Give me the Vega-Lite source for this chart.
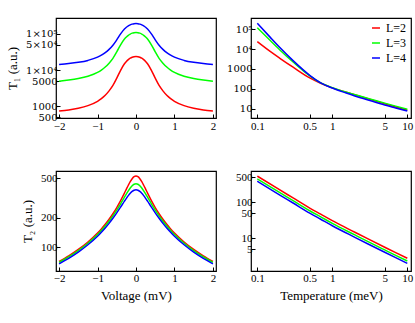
{
  "$schema": "https://vega.github.io/schema/vega-lite/v6.json",
  "padding": {"left": 5, "top": 17, "right": 0, "bottom": 0},
  "background": "white",
  "bounds": "flush",
  "spacing": {"row": 53, "column": 35},
  "columns": 2,
  "resolve": {"scale": {"color": "independent"}, "legend": {"color": "independent"}},
  "datasets": {
    "t1v": [
      {"L":"L=2","V":-2,"T":741},{"L":"L=2","V":-1.75,"T":800},{"L":"L=2","V":-1.5,"T":891},{"L":"L=2","V":-1.25,"T":1050},{"L":"L=2","V":-1,"T":1380},{"L":"L=2","V":-0.9,"T":1637},{"L":"L=2","V":-0.8,"T":2030},{"L":"L=2","V":-0.7,"T":2680},{"L":"L=2","V":-0.6,"T":3785},{"L":"L=2","V":-0.5,"T":6010},{"L":"L=2","V":-0.4,"T":9930},{"L":"L=2","V":-0.3,"T":15070},{"L":"L=2","V":-0.25,"T":17420},{"L":"L=2","V":-0.2,"T":19630},{"L":"L=2","V":-0.15,"T":21380},{"L":"L=2","V":-0.1,"T":22750},{"L":"L=2","V":-0.05,"T":23550},{"L":"L=2","V":0,"T":23820},{"L":"L=2","V":0.05,"T":23550},{"L":"L=2","V":0.1,"T":22750},{"L":"L=2","V":0.15,"T":21380},{"L":"L=2","V":0.2,"T":19630},{"L":"L=2","V":0.25,"T":17420},{"L":"L=2","V":0.3,"T":15070},{"L":"L=2","V":0.4,"T":9930},{"L":"L=2","V":0.5,"T":6010},{"L":"L=2","V":0.6,"T":3785},{"L":"L=2","V":0.7,"T":2680},{"L":"L=2","V":0.8,"T":2030},{"L":"L=2","V":0.9,"T":1637},{"L":"L=2","V":1,"T":1380},{"L":"L=2","V":1.25,"T":1050},{"L":"L=2","V":1.5,"T":891},{"L":"L=2","V":1.75,"T":800},{"L":"L=2","V":2,"T":741},
      {"L":"L=3","V":-2,"T":4977},{"L":"L=3","V":-1.75,"T":5330},{"L":"L=3","V":-1.5,"T":5861},{"L":"L=3","V":-1.25,"T":6776},{"L":"L=3","V":-1,"T":8650},{"L":"L=3","V":-0.9,"T":10070},{"L":"L=3","V":-0.8,"T":12190},{"L":"L=3","V":-0.7,"T":15630},{"L":"L=3","V":-0.6,"T":21280},{"L":"L=3","V":-0.5,"T":32060},{"L":"L=3","V":-0.4,"T":50230},{"L":"L=3","V":-0.3,"T":72780},{"L":"L=3","V":-0.25,"T":82800},{"L":"L=3","V":-0.2,"T":92000},{"L":"L=3","V":-0.15,"T":99300},{"L":"L=3","V":-0.1,"T":105200},{"L":"L=3","V":-0.05,"T":108400},{"L":"L=3","V":0,"T":109400},{"L":"L=3","V":0.05,"T":108400},{"L":"L=3","V":0.1,"T":105200},{"L":"L=3","V":0.15,"T":99300},{"L":"L=3","V":0.2,"T":92000},{"L":"L=3","V":0.25,"T":82800},{"L":"L=3","V":0.3,"T":72780},{"L":"L=3","V":0.4,"T":50230},{"L":"L=3","V":0.5,"T":32060},{"L":"L=3","V":0.6,"T":21280},{"L":"L=3","V":0.7,"T":15630},{"L":"L=3","V":0.8,"T":12190},{"L":"L=3","V":0.9,"T":10070},{"L":"L=3","V":1,"T":8650},{"L":"L=3","V":1.25,"T":6776},{"L":"L=3","V":1.5,"T":5861},{"L":"L=3","V":1.75,"T":5330},{"L":"L=3","V":2,"T":4977},
      {"L":"L=4","V":-2,"T":14350},{"L":"L=4","V":-1.75,"T":15210},{"L":"L=4","V":-1.5,"T":16480},{"L":"L=4","V":-1.25,"T":18620},{"L":"L=4","V":-1,"T":22860},{"L":"L=4","V":-0.9,"T":26000},{"L":"L=4","V":-0.8,"T":30550},{"L":"L=4","V":-0.7,"T":37580},{"L":"L=4","V":-0.6,"T":48750},{"L":"L=4","V":-0.5,"T":68870},{"L":"L=4","V":-0.4,"T":100500},{"L":"L=4","V":-0.3,"T":137400},{"L":"L=4","V":-0.25,"T":153100},{"L":"L=4","V":-0.2,"T":167500},{"L":"L=4","V":-0.15,"T":178600},{"L":"L=4","V":-0.1,"T":187100},{"L":"L=4","V":-0.05,"T":192300},{"L":"L=4","V":0,"T":193600},{"L":"L=4","V":0.05,"T":192300},{"L":"L=4","V":0.1,"T":187100},{"L":"L=4","V":0.15,"T":178600},{"L":"L=4","V":0.2,"T":167500},{"L":"L=4","V":0.25,"T":153100},{"L":"L=4","V":0.3,"T":137400},{"L":"L=4","V":0.4,"T":100500},{"L":"L=4","V":0.5,"T":68870},{"L":"L=4","V":0.6,"T":48750},{"L":"L=4","V":0.7,"T":37580},{"L":"L=4","V":0.8,"T":30550},{"L":"L=4","V":0.9,"T":26000},{"L":"L=4","V":1,"T":22860},{"L":"L=4","V":1.25,"T":18620},{"L":"L=4","V":1.5,"T":16480},{"L":"L=4","V":1.75,"T":15210},{"L":"L=4","V":2,"T":14350}
    ],
    "t2v": [
      {"L":"L=2","V":-2,"T":71.3},{"L":"L=2","V":-1.75,"T":81.3},{"L":"L=2","V":-1.5,"T":94.5},{"L":"L=2","V":-1.25,"T":112.6},{"L":"L=2","V":-1,"T":139},{"L":"L=2","V":-0.9,"T":153.2},{"L":"L=2","V":-0.8,"T":170.4},{"L":"L=2","V":-0.7,"T":191.8},{"L":"L=2","V":-0.6,"T":218.6},{"L":"L=2","V":-0.5,"T":253},{"L":"L=2","V":-0.4,"T":297.8},{"L":"L=2","V":-0.3,"T":355.8},{"L":"L=2","V":-0.25,"T":390},{"L":"L=2","V":-0.2,"T":426.8},{"L":"L=2","V":-0.15,"T":464},{"L":"L=2","V":-0.1,"T":497.4},{"L":"L=2","V":-0.05,"T":521.3},{"L":"L=2","V":0,"T":530},{"L":"L=2","V":0.05,"T":521.3},{"L":"L=2","V":0.1,"T":497.4},{"L":"L=2","V":0.15,"T":464},{"L":"L=2","V":0.2,"T":426.8},{"L":"L=2","V":0.25,"T":390},{"L":"L=2","V":0.3,"T":355.8},{"L":"L=2","V":0.4,"T":297.8},{"L":"L=2","V":0.5,"T":253},{"L":"L=2","V":0.6,"T":218.6},{"L":"L=2","V":0.7,"T":191.8},{"L":"L=2","V":0.8,"T":170.4},{"L":"L=2","V":0.9,"T":153.2},{"L":"L=2","V":1,"T":139},{"L":"L=2","V":1.25,"T":112.6},{"L":"L=2","V":1.5,"T":94.5},{"L":"L=2","V":1.75,"T":81.3},{"L":"L=2","V":2,"T":71.3},
      {"L":"L=3","V":-2,"T":69.7},{"L":"L=3","V":-1.75,"T":79.4},{"L":"L=3","V":-1.5,"T":92.1},{"L":"L=3","V":-1.25,"T":109.4},{"L":"L=3","V":-1,"T":134.5},{"L":"L=3","V":-0.9,"T":147.8},{"L":"L=3","V":-0.8,"T":163.9},{"L":"L=3","V":-0.7,"T":183.5},{"L":"L=3","V":-0.6,"T":207.7},{"L":"L=3","V":-0.5,"T":237.9},{"L":"L=3","V":-0.4,"T":275.8},{"L":"L=3","V":-0.3,"T":322.2},{"L":"L=3","V":-0.25,"T":348.1},{"L":"L=3","V":-0.2,"T":374.6},{"L":"L=3","V":-0.15,"T":400.1},{"L":"L=3","V":-0.1,"T":421.8},{"L":"L=3","V":-0.05,"T":436.7},{"L":"L=3","V":0,"T":442},{"L":"L=3","V":0.05,"T":436.7},{"L":"L=3","V":0.1,"T":421.8},{"L":"L=3","V":0.15,"T":400.1},{"L":"L=3","V":0.2,"T":374.6},{"L":"L=3","V":0.25,"T":348.1},{"L":"L=3","V":0.3,"T":322.2},{"L":"L=3","V":0.4,"T":275.8},{"L":"L=3","V":0.5,"T":237.9},{"L":"L=3","V":0.6,"T":207.7},{"L":"L=3","V":0.7,"T":183.5},{"L":"L=3","V":0.8,"T":163.9},{"L":"L=3","V":0.9,"T":147.8},{"L":"L=3","V":1,"T":134.5},{"L":"L=3","V":1.25,"T":109.4},{"L":"L=3","V":1.5,"T":92.1},{"L":"L=3","V":1.75,"T":79.4},{"L":"L=3","V":2,"T":69.7},
      {"L":"L=4","V":-2,"T":67.5},{"L":"L=4","V":-1.75,"T":76.8},{"L":"L=4","V":-1.5,"T":88.9},{"L":"L=4","V":-1.25,"T":105.5},{"L":"L=4","V":-1,"T":129.1},{"L":"L=4","V":-0.9,"T":141.6},{"L":"L=4","V":-0.8,"T":156.5},{"L":"L=4","V":-0.7,"T":174.4},{"L":"L=4","V":-0.6,"T":196.3},{"L":"L=4","V":-0.5,"T":223},{"L":"L=4","V":-0.4,"T":255.5},{"L":"L=4","V":-0.3,"T":293.6},{"L":"L=4","V":-0.25,"T":314},{"L":"L=4","V":-0.2,"T":334.4},{"L":"L=4","V":-0.15,"T":353.2},{"L":"L=4","V":-0.1,"T":368.9},{"L":"L=4","V":-0.05,"T":379.3},{"L":"L=4","V":0,"T":383},{"L":"L=4","V":0.05,"T":379.3},{"L":"L=4","V":0.1,"T":368.9},{"L":"L=4","V":0.15,"T":353.2},{"L":"L=4","V":0.2,"T":334.4},{"L":"L=4","V":0.25,"T":314},{"L":"L=4","V":0.3,"T":293.6},{"L":"L=4","V":0.4,"T":255.5},{"L":"L=4","V":0.5,"T":223},{"L":"L=4","V":0.6,"T":196.3},{"L":"L=4","V":0.7,"T":174.4},{"L":"L=4","V":0.8,"T":156.5},{"L":"L=4","V":0.9,"T":141.6},{"L":"L=4","V":1,"T":129.1},{"L":"L=4","V":1.25,"T":105.5},{"L":"L=4","V":1.5,"T":88.9},{"L":"L=4","V":1.75,"T":76.8},{"L":"L=4","V":2,"T":67.5}
    ],
    "t1t": [
      {"L":"L=2","K":0.1,"T":23700},{"L":"L=2","K":0.15,"T":7413},{"L":"L=2","K":0.2,"T":3467},{"L":"L=2","K":0.3,"T":1230},{"L":"L=2","K":0.5,"T":354.8},{"L":"L=2","K":0.7,"T":190.5},{"L":"L=2","K":1,"T":112.2},{"L":"L=2","K":1.5,"T":69.2},{"L":"L=2","K":2,"T":50.1},{"L":"L=2","K":3,"T":31.6},{"L":"L=2","K":5,"T":17.8},{"L":"L=2","K":7,"T":12.3},{"L":"L=2","K":10,"T":8.32},
      {"L":"L=3","K":0.1,"T":120200},{"L":"L=3","K":0.15,"T":26300},{"L":"L=3","K":0.2,"T":9120},{"L":"L=3","K":0.3,"T":2239},{"L":"L=3","K":0.5,"T":446.7},{"L":"L=3","K":0.7,"T":199.5},{"L":"L=3","K":1,"T":114.8},{"L":"L=3","K":1.5,"T":69.2},{"L":"L=3","K":2,"T":50.1},{"L":"L=3","K":3,"T":33.1},{"L":"L=3","K":5,"T":19.05},{"L":"L=3","K":7,"T":13.5},{"L":"L=3","K":10,"T":9.33},
      {"L":"L=4","K":0.1,"T":199500},{"L":"L=4","K":0.15,"T":38020},{"L":"L=4","K":0.2,"T":12020},{"L":"L=4","K":0.3,"T":2630},{"L":"L=4","K":0.5,"T":478.6},{"L":"L=4","K":0.7,"T":199.5},{"L":"L=4","K":1,"T":109.6},{"L":"L=4","K":1.5,"T":63.1},{"L":"L=4","K":2,"T":43.65},{"L":"L=4","K":3,"T":27.5},{"L":"L=4","K":5,"T":15.5},{"L":"L=4","K":7,"T":10.96},{"L":"L=4","K":10,"T":7.59}
    ],
    "t2t": [
      {"L":"L=2","K":0.1,"T":530},{"L":"L=2","K":0.2,"T":218.8},{"L":"L=2","K":0.3,"T":131.8},{"L":"L=2","K":0.5,"T":69.2},{"L":"L=2","K":0.7,"T":46.8},{"L":"L=2","K":1,"T":30.9},{"L":"L=2","K":2,"T":14.8},{"L":"L=2","K":3,"T":9.66},{"L":"L=2","K":5,"T":5.69},{"L":"L=2","K":7,"T":4.03},{"L":"L=2","K":10,"T":2.82},
      {"L":"L=3","K":0.1,"T":442},{"L":"L=3","K":0.2,"T":184},{"L":"L=3","K":0.3,"T":110.8},{"L":"L=3","K":0.5,"T":58.2},{"L":"L=3","K":0.7,"T":39.4},{"L":"L=3","K":1,"T":26},{"L":"L=3","K":2,"T":12.45},{"L":"L=3","K":3,"T":8.12},{"L":"L=3","K":5,"T":4.79},{"L":"L=3","K":7,"T":3.39},{"L":"L=3","K":10,"T":2.37},
      {"L":"L=4","K":0.1,"T":383},{"L":"L=4","K":0.2,"T":158.5},{"L":"L=4","K":0.3,"T":95.5},{"L":"L=4","K":0.5,"T":50.1},{"L":"L=4","K":0.7,"T":33.9},{"L":"L=4","K":1,"T":22.4},{"L":"L=4","K":2,"T":10.7},{"L":"L=4","K":3,"T":7},{"L":"L=4","K":5,"T":4.12},{"L":"L=4","K":7,"T":2.92},{"L":"L=4","K":10,"T":2.04}
    ]
  },
  "concat": [
    {
      "width": 160, "height": 100,
      "data": {"name": "t1v"},
      "mark": {"type": "line", "clip": true},
      "encoding": {
        "x": {"field": "V", "type": "quantitative", "scale": {"domain": [-2.08, 2.08], "nice": false, "zero": false},
              "axis": {"values": [-2, -1, 0, 1, 2], "format": "d", "title": null, "labelPadding": 6}},
        "y": {"field": "T", "type": "quantitative", "scale": {"type": "log", "domain": [478, 276000], "nice": false},
              "axis": {"values": [500, 1000, 5000, 10000, 50000, 100000], "title": "T₁ (a.u.)", "titlePadding": 6,
                       "labelFont": "DejaVu Serif", "labelFontSize": 10,
                       "labelExpr": "{'500':'500','1000':'1000','5000':'5000','10000':'1×10⁴','50000':'5×10⁴','100000':'1×10⁵'}[''+datum.value]"}},
        "color": {"field": "L", "type": "nominal", "scale": {"domain": ["L=2", "L=3", "L=4"], "range": ["#ff0000", "#00ff00", "#0000ff"]}, "legend": null}
      }
    },
    {
      "width": 160, "height": 100,
      "data": {"name": "t1t"},
      "mark": {"type": "line", "clip": true},
      "encoding": {
        "x": {"field": "K", "type": "quantitative", "scale": {"type": "log", "domain": [0.0824, 11.2], "nice": false},
              "axis": {"values": [0.1, 0.5, 1, 5, 10], "title": null, "labelPadding": 6,
                       "labelExpr": "{'0.1':'0.1','0.5':'0.5','1':'1','5':'5','10':'10'}[''+datum.value]"}},
        "y": {"field": "T", "type": "quantitative", "scale": {"type": "log", "domain": [3.4, 370000], "nice": false},
              "axis": {"values": [10, 100, 1000, 10000, 100000], "title": null,
                       "labelFont": "DejaVu Serif", "labelFontSize": 10,
                       "labelExpr": "{'10':'10','100':'100','1000':'1000','10000':'10⁴','100000':'10⁵'}[''+datum.value]"}},
        "color": {"field": "L", "type": "nominal", "scale": {"domain": ["L=2", "L=3", "L=4"], "range": ["#ff0000", "#00ff00", "#0000ff"]},
                  "legend": {"orient": "top-right", "title": null, "symbolType": "stroke", "symbolSize": 64, "symbolStrokeWidth": 1.5,
                             "labelFont": "Liberation Serif", "labelFontSize": 12, "labelColor": "#000", "rowPadding": 3, "offset": 4, "padding": 0}}
      }
    },
    {
      "width": 160, "height": 100,
      "data": {"name": "t2v"},
      "mark": {"type": "line", "clip": true},
      "encoding": {
        "x": {"field": "V", "type": "quantitative", "scale": {"domain": [-2.08, 2.08], "nice": false, "zero": false},
              "axis": {"values": [-2, -1, 0, 1, 2], "format": "d", "title": "Voltage (mV)", "labelPadding": 5, "titlePadding": 6}},
        "y": {"field": "T", "type": "quantitative", "scale": {"type": "log", "domain": [57, 596], "nice": false},
              "axis": {"values": [100, 200, 500], "title": "T₂ (a.u.)", "titlePadding": 6,
                       "labelExpr": "{'100':'100','200':'200','500':'500'}[''+datum.value]"}},
        "color": {"field": "L", "type": "nominal", "scale": {"domain": ["L=2", "L=3", "L=4"], "range": ["#ff0000", "#00ff00", "#0000ff"]}, "legend": null}
      }
    },
    {
      "width": 160, "height": 100,
      "data": {"name": "t2t"},
      "mark": {"type": "line", "clip": true},
      "encoding": {
        "x": {"field": "K", "type": "quantitative", "scale": {"type": "log", "domain": [0.0824, 11.2], "nice": false},
              "axis": {"values": [0.1, 0.5, 1, 5, 10], "title": "Temperature (meV)", "labelPadding": 5, "titlePadding": 6,
                       "labelExpr": "{'0.1':'0.1','0.5':'0.5','1':'1','5':'5','10':'10'}[''+datum.value]"}},
        "y": {"field": "T", "type": "quantitative", "scale": {"type": "log", "domain": [1.25, 734], "nice": false},
              "axis": {"values": [5, 10, 50, 100, 500], "title": null,
                       "labelExpr": "{'5':'5','10':'10','50':'50','100':'100','500':'500'}[''+datum.value]"}},
        "color": {"field": "L", "type": "nominal", "scale": {"domain": ["L=2", "L=3", "L=4"], "range": ["#ff0000", "#00ff00", "#0000ff"]}, "legend": null}
      }
    }
  ],
  "config": {
    "font": "Liberation Serif",
    "view": {"stroke": "#000", "strokeWidth": 1.2},
    "axis": {"grid": false, "domain": false, "tickColor": "#000", "tickSize": -4, "tickWidth": 1,
             "labelFont": "Liberation Serif", "labelFontSize": 11, "labelColor": "#000", "labelPadding": 3,
             "labelOverlap": false, "labelFlush": false,
             "titleFont": "Liberation Serif", "titleFontSize": 13, "titleFontWeight": "normal", "titleColor": "#000"},
    "line": {"strokeWidth": 1.5, "interpolate": "monotone"}
  }
}
